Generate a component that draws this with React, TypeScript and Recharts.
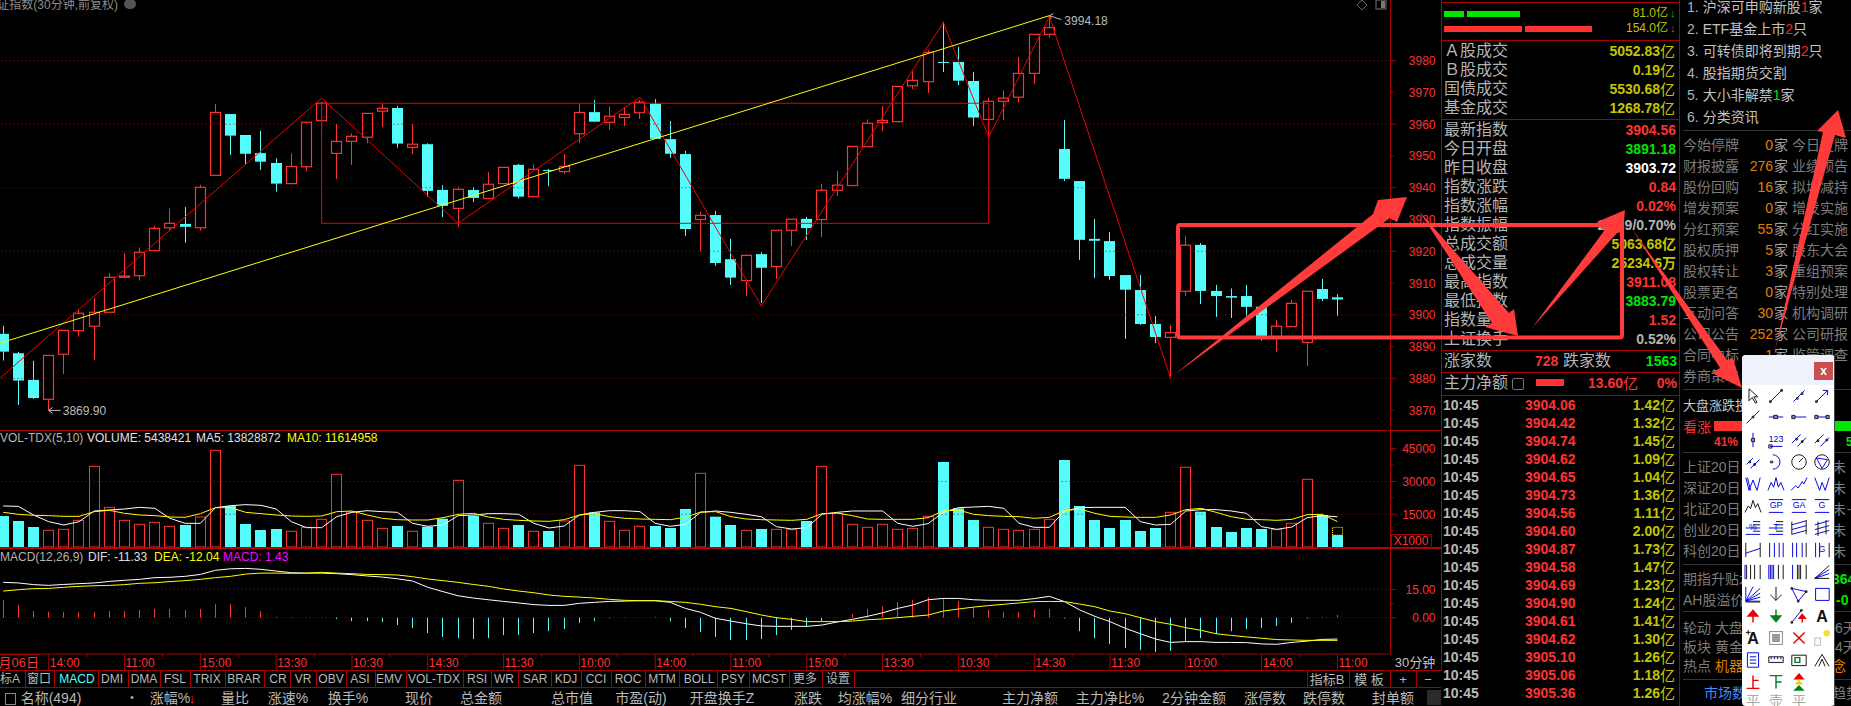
import React from 'react'
import { ComposedChart, Bar, Line, XAxis, YAxis, ReferenceLine, ReferenceDot } from 'recharts'

const RED = '#ff3232'
const CYAN = '#54fcfc'
const FRAME = '#a80000'
const DOTS = '#8a1010'
const OLIVE = '#c4c400'
const GREY = '#b4b4b4'
const FONT = '"Liberation Sans","Noto Sans CJK SC",sans-serif'

const HIGHS = [3896.5,3888.3,3885.5,3887.2,3895.1,3901.5,3905.4,3913.1,3919.4,3921.2,3928.0,3933.5,3933.9,3940.9,3966.4,3963.2,3956.6,3957.9,3949.3,3950.8,3960.6,3967.1,3960.0,3957.1,3963.4,3966.6,3965.7,3960.0,3954.0,3940.8,3940.4,3940.2,3944.9,3946.4,3947.5,3947.2,3945.9,3950.6,3966.4,3967.6,3965.6,3965.3,3967.6,3967.9,3961.0,3951.6,3932.4,3932.7,3923.9,3919.0,3919.7,3926.6,3930.1,3930.8,3941.2,3945.3,3953.0,3961.5,3965.7,3971.9,3977.1,3983.4,3992.2,3984.3,3976.4,3968.3,3970.6,3981.1,3988.3,3994.18,3961.3,3942.1,3930.2,3926.0,3912.5,3912.5,3899.6,3896.8,3924.8,3922.6,3909.4,3908.3,3909.4,3902.5,3898.4,3904.7,3907.4,3911.3,3906.5]
const BODY_TOPS = [3894.0,3887.9,3879.5,3887.2,3895.1,3900.5,3900.8,3911.8,3912.2,3919.7,3927.2,3928.8,3928.6,3940.1,3963.7,3963.2,3956.6,3950.9,3947.8,3946.7,3960.6,3966.6,3954.6,3956.2,3963.4,3965.0,3965.1,3953.7,3953.7,3939.3,3939.5,3939.3,3941.1,3946.4,3947.2,3945.8,3945.6,3946.7,3963.7,3963.8,3962.5,3963.1,3966.9,3966.5,3955.3,3950.6,3931.3,3931.4,3917.5,3918.7,3919.1,3926.6,3930.1,3930.2,3939.2,3940.8,3953.0,3960.3,3961.2,3971.9,3973.8,3982.6,3979.6,3979.6,3973.6,3967.2,3968.2,3976.0,3988.3,3990.4,3952.2,3942.1,3923.9,3923.2,3912.5,3907.8,3897.1,3894.4,3921.9,3922.0,3907.5,3905.9,3905.9,3902.5,3896.4,3903.6,3907.4,3908.1,3905.5]
const BODY_BOTTOMS = [3888.4,3879.3,3873.8,3873.4,3887.6,3895.0,3896.4,3900.8,3911.8,3912.3,3920.2,3927.4,3927.7,3927.4,3943.9,3956.4,3950.7,3948.2,3941.3,3941.3,3946.6,3961.1,3950.8,3954.6,3955.9,3964.1,3953.9,3952.7,3939.0,3934.3,3933.5,3936.8,3936.6,3941.3,3937.2,3937.2,3945.3,3945.1,3957.0,3960.8,3960.6,3962.1,3963.6,3955.4,3950.7,3927.0,3930.0,3916.3,3911.7,3910.8,3914.8,3915.2,3926.6,3927.3,3930.0,3939.2,3940.7,3952.9,3960.5,3960.8,3972.1,3973.4,3979.4,3973.7,3962.1,3961.5,3967.2,3968.5,3976.0,3988.3,3942.8,3923.6,3923.3,3912.2,3907.9,3897.1,3893.0,3892.9,3907.4,3907.5,3905.9,3905.4,3902.5,3892.6,3892.6,3896.3,3891.3,3905.0,3904.8]
const LOWS = [3885.6,3871.6,3873.5,3869.9,3881.4,3893.1,3885.8,3900.8,3911.8,3910.8,3920.2,3926.5,3922.7,3926.5,3943.9,3950.3,3947.2,3945.6,3938.8,3941.3,3945.3,3956.9,3942.8,3947.2,3954.0,3959.1,3952.6,3950.6,3937.2,3930.8,3927.7,3935.5,3936.6,3941.3,3936.6,3937.2,3940.5,3944.3,3954.1,3960.8,3958.2,3959.4,3961.6,3955.4,3949.4,3924.8,3919.9,3915.4,3909.4,3905.9,3903.7,3911.3,3921.7,3923.6,3924.5,3937.4,3940.7,3952.9,3957.9,3960.8,3971.1,3969.8,3976.4,3972.3,3959.4,3956.1,3961.3,3966.8,3972.7,3987.2,3942.1,3917.3,3911.6,3911.0,3892.4,3896.8,3891.1,3879.9,3905.9,3903.4,3899.3,3899.0,3899.6,3891.9,3888.3,3896.3,3883.9,3904.3,3899.6]
const CANDLE_SIDES = 'CCCRRRRRRRRRCRRCCCCRRRRRRRCRCCRCRRCRCRRCRRRCCCRCCRCRRCRRRRRRRRCCCRRRRRCCCCCCCRRCCCCCRRRCC'

const VOLUMES = [14180,11900,9150,7630,8080,12200,36900,18150,12200,10370,11290,9460,10070,13730,44230,18760,10520,7780,8240,7170,9000,12660,33250,16010,12200,8540,9610,7170,9300,12960,30500,14340,10830,8540,10070,7170,7320,11900,37360,15860,11740,7630,9460,9610,8690,17390,33700,13880,10070,7630,8240,8080,7930,11900,36900,15250,10370,9000,10370,8080,8540,14030,38890,17690,12350,9000,8080,7630,8080,12660,39800,18760,12350,8690,12350,7320,8690,15860,36450,16170,9150,6860,8690,8240,7930,10830,30960,14640,5438]
const VOL_MA5 = [18760,18600,14640,11590,10070,11590,16470,16930,17390,18150,17690,13120,10830,10830,18000,18910,19370,19060,17390,11590,8850,8850,13880,15860,16620,16170,15860,10830,9460,10070,14340,14640,15250,15250,14950,10830,8690,9610,14640,15860,16620,16620,16170,10830,9460,10370,15860,16470,15860,14950,13880,9300,8240,8850,14950,15860,16470,16470,16470,10830,9460,10680,15860,18000,18300,18600,17690,10830,9000,9000,16470,18000,18150,18150,18150,11590,10070,10370,16470,17080,17080,16470,15400,9300,8080,9150,13420,14340,13829]
const VOL_MA10 = [15860,14950,14490,14340,14030,14030,16170,16780,15400,14640,14340,13730,13570,15250,18000,18000,15860,15250,14640,14180,14030,14180,16170,16470,14640,13120,12500,12350,12350,13420,14950,15400,13730,12660,12200,11900,11740,12500,14640,15250,13880,13120,12810,12660,12500,13570,16010,16170,13880,12810,12500,12350,12200,12660,15250,15560,14340,12810,12660,12660,12660,13420,16470,16930,14950,14340,14030,13880,13120,13570,16620,17390,15400,14030,13730,13570,13570,14640,17080,17690,15860,13880,12660,12500,12200,12660,14790,14950,11615]
const LAST_BAR_ESTIMATE = 9000

const DIF = [18.7,18.4,17.5,17.1,17.6,18.0,18.4,19.2,19.8,20.3,21.2,21.4,21.9,22.9,25.1,25.9,26.1,25.6,24.7,23.8,23.6,23.6,23.3,22.8,22.1,21.5,20.6,19.4,16.1,13.8,11.6,10.4,9.5,8.6,7.8,6.9,6.5,6.5,7.6,8.1,8.6,8.8,9.0,9.0,8.1,4.9,2.8,-0.4,-1.8,-3.2,-4.4,-4.6,-4.6,-4.6,-3.9,-2.3,-0.9,0.7,2.6,4.9,6.7,9.5,10.2,10.2,9.5,9.2,9.2,9.2,10.1,11.3,8.5,4.1,0.7,-2.1,-5.6,-8.5,-11.3,-13.1,-12.7,-12.7,-13.1,-13.1,-13.2,-13.9,-14.1,-13.1,-12.4,-11.5,-11.33]
const DEA = [14.1,14.8,15.4,15.5,16.1,16.6,16.9,17.1,17.5,18.2,18.5,19.1,19.6,20.3,21.2,21.9,23.1,23.6,23.6,23.5,23.6,24.0,23.6,23.3,22.9,22.8,22.6,21.7,20.5,19.6,18.7,17.6,16.6,15.2,14.1,13.2,12.0,11.3,10.9,10.4,9.7,9.2,9.0,9.0,8.6,8.1,7.1,5.8,4.9,3.2,1.4,0,-0.9,-2.1,-2.1,-2.1,-1.8,-1.1,-0.7,0,0.7,1.4,3.5,4.6,5.6,6.4,7.1,7.8,8.5,8.6,8.5,7.2,5.8,3.5,2.1,0,-2.1,-3.5,-5.3,-6.7,-8.5,-9.4,-10.2,-10.9,-11.6,-11.8,-12.0,-12.0,-12.04]
const MACD = [9.4,6.7,3.5,3.2,3.0,2.8,2.8,3.5,3.5,4.1,4.6,4.6,4.1,4.6,7.2,7.2,5.6,3.5,0.5,0.2,0.1,-0.1,-0.7,-1.8,-1.8,-2.3,-3.9,-5.5,-8.1,-10.2,-10.8,-11.3,-10.8,-9.2,-9.2,-8.1,-7.1,-6.0,-2.8,-1.8,-0.4,-0.1,0.1,0.4,-1.8,-5.5,-7.6,-10.2,-11.8,-11.8,-11.3,-9.2,-6.5,-4.9,-1.8,0.1,1.9,4.6,6.0,8.3,9.4,10.9,10.4,8.8,5.6,4.1,3.0,3.0,4.1,4.6,-0.4,-7.1,-10.8,-13.9,-16.1,-17.1,-18.2,-17.6,-12.4,-10.8,-8.6,-7.1,-6.0,-5.5,-4.4,-2.8,-0.4,0.4,1.43]

const ZIGZAG_SLOTS = [-1,21,30,42,50,62,65,69,77]
const ZIGZAG_VALUES = [3876.8,3968.2,3928.8,3968.5,3902.8,3992.0,3955.9,3993.9,3880.0]
const TREND_SLOTS = [-1,69]
const TREND_VALUES = [3889.9,3994.18]

const TIME_SLOTS = [3,8,13,18,23,28,33,38,43,48,53,58,63,68,73,78,83,88]
const TIME_LABELS = ['14:00','11:00','15:00','13:30','10:30','14:30','11:30','10:00','14:00','11:00','15:00','13:30','10:30','14:30','11:30','10:00','14:00','11:00']
const PRICE_TICKS = [3870,3880,3890,3900,3910,3920,3930,3940,3950,3960,3970,3980]
const PRICE_GRID = [3880,3900,3920,3940,3960,3980]

const rows = Array.from({ length: 93 }, (_, i) => {
    const slot = i - 1
    const zig = ZIGZAG_SLOTS.indexOf(slot)
    const trend = TREND_SLOTS.indexOf(slot)
    return {
        slot,
        high: HIGHS[slot],
        top: BODY_TOPS[slot],
        bottom: BODY_BOTTOMS[slot],
        low: LOWS[slot],
        up: CANDLE_SIDES[slot] === 'R',
        volume: VOLUMES[slot],
        ma5: VOL_MA5[slot],
        ma10: VOL_MA10[slot],
        dif: DIF[slot],
        dea: DEA[slot],
        macd: MACD[slot],
        zigzag: zig >= 0 ? ZIGZAG_VALUES[zig] : undefined,
        trend: trend >= 0 ? TREND_VALUES[trend] : undefined,
    }
})

function Candle({ x, y, width, height, payload }: any) {
    if (payload.high == null || !height) return <g />
    const perUnit = height / (payload.high - payload.low)
    const left = Math.round(x)
    const mid = left + 5.5
    const bodyY = y + (payload.high - payload.top) * perUnit
    const bodyH = Math.max((payload.top - payload.bottom) * perUnit, 1)
    const color = payload.up ? RED : CYAN
    return (
        <g>
            <line x1={mid} x2={mid} y1={y} y2={y + height} stroke={color} />
            {payload.up
                ? <rect x={left + 0.5} y={bodyY} width={10} height={bodyH} fill="#000" stroke={color} strokeWidth={1.2} />
                : <rect x={left} y={bodyY} width={11} height={bodyH} fill={color} />}
        </g>
    )
}

function VolumeBar({ x, y, height, payload }: any) {
    if (payload.volume == null) return <g />
    const left = Math.round(x)
    const color = payload.up ? RED : CYAN
    const est = payload.slot === 88 ? (height / payload.volume) * (LAST_BAR_ESTIMATE - payload.volume) : 0
    return (
        <g>
            {payload.up
                ? <rect x={left + 0.5} y={y} width={10} height={height} fill="#000" stroke={color} />
                : <rect x={left} y={y} width={11} height={height} fill={color} />}
            {est > 0 && <rect x={left + 0.5} y={y - est} width={10} height={est} fill="none" stroke="#ffff00" strokeDasharray="1 1" />}
        </g>
    )
}

function MacdBar({ x, y, height, payload }: any) {
    if (payload.macd == null) return <g />
    const top = height < 0 ? y + height : y
    return <rect x={Math.round(x)} y={top} width={1} height={Math.abs(height)} fill={payload.macd >= 0 ? RED : CYAN} />
}

function PriceTick({ x, y, payload }: any) {
    const major = PRICE_GRID.includes(payload.value)
    return (
        <g>
            <line x1={x} x2={x + (major ? 6 : 3)} y1={y} y2={y} stroke={FRAME} />
            <text x={x + 45} y={y + 4.5} textAnchor="end" fill={RED} fontSize={12} fontFamily={FONT}>{payload.value}</text>
        </g>
    )
}

function VolumeTick({ x, y, payload }: any) {
    const major = payload.value % 15000 === 0
    return (
        <g>
            <line x1={x} x2={x + (major ? 6 : 3)} y1={y} y2={y} stroke={FRAME} />
            {major && <text x={x + 45} y={y + 4.5} textAnchor="end" fill={RED} fontSize={12} fontFamily={FONT}>{payload.value}</text>}
        </g>
    )
}

function MacdTick({ x, y, payload }: any) {
    const labelled = payload.value === 0 || payload.value === 15
    return (
        <g>
            <line x1={x} x2={x + (labelled ? 6 : 3)} y1={y} y2={y} stroke={FRAME} />
            {labelled && <text x={x + 45} y={y + 4.5} textAnchor="end" fill={RED} fontSize={12} fontFamily={FONT}>{payload.value.toFixed(2)}</text>}
        </g>
    )
}

function TimeTick({ x, y, payload }: any) {
    const label = TIME_LABELS[TIME_SLOTS.indexOf(payload.value)]
    return (
        <g>
            <line x1={x} x2={x} y1={y} y2={y + 16} stroke={FRAME} />
            {payload.value !== 88 && <line x1={x + 38} x2={x + 38} y1={y} y2={y + 3} stroke={FRAME} />}
            <text x={x + 1} y={y + 12.5} fill={RED} fontSize={12} fontFamily={FONT}>{label}</text>
        </g>
    )
}

const extremeLabel = (text: string, side: 'low' | 'high') => (props: any) => {
    const { cx, cy } = props
    if (side === 'low') {
        return (
            <g>
                <path d={`M${cx + 12} ${cy}H${cx}M${cx + 4} ${cy - 3}L${cx} ${cy}L${cx + 4} ${cy + 3}`} stroke="#bbb" fill="none" />
                <text x={cx + 14} y={cy + 5} fill="#bbb" fontSize={12} fontFamily={FONT}>{text}</text>
            </g>
        )
    }
    return (
        <g>
            <path d={`M${cx} ${cy}L${cx + 12} ${cy + 4}M${cx + 4} ${cy - 2}L${cx} ${cy}L${cx + 2} ${cy + 3}`} stroke="#bbb" fill="none" />
            <text x={cx + 15} y={cy + 9} fill="#bbb" fontSize={12} fontFamily={FONT}>{text}</text>
        </g>
    )
}

const CHART_LEFT = -20
const CHART_WIDTH = 1461
const chartMargin = { top: 0, right: 0.5, bottom: 0, left: 0.5 }

function Pane({ top, children }: { top: number; children: React.ReactNode }) {
    return <div style={{ position: 'absolute', left: CHART_LEFT, top }}>{children}</div>
}

function PriceChart() {
    const rectTop = 3966.6
    const rectBottom = 3928.8
    return (
        <Pane top={0}>
            <ComposedChart width={CHART_WIDTH} height={430} data={rows} margin={chartMargin} barCategoryGap={0}>
                <XAxis dataKey="slot" hide />
                <YAxis orientation="right" width={50} domain={[3863.73, 3999.1]} ticks={PRICE_TICKS} interval={0} tick={PriceTick} tickLine={false} tickSize={0} tickMargin={0} axisLine={{ stroke: FRAME }} allowDataOverflow />
                {PRICE_GRID.map((v) => <ReferenceLine key={v} y={v} stroke={DOTS} strokeDasharray="1 3" />)}
                <ReferenceLine segment={[{ x: 21, y: rectTop }, { x: 65, y: rectTop }]} stroke="#ee0000" />
                <ReferenceLine segment={[{ x: 21, y: rectBottom }, { x: 65, y: rectBottom }]} stroke="#ee0000" />
                <ReferenceLine segment={[{ x: 21, y: rectTop }, { x: 21, y: rectBottom }]} stroke="#ee0000" />
                <ReferenceLine segment={[{ x: 65, y: rectTop }, { x: 65, y: rectBottom }]} stroke="#ee0000" />
                <Bar dataKey={(d: any) => (d.high == null ? null : [d.low, d.high])} barSize={11} shape={Candle} isAnimationActive={false} />
                <Line dataKey="zigzag" connectNulls dot={false} stroke="#f00000" strokeWidth={1} isAnimationActive={false} />
                <Line dataKey="trend" connectNulls dot={false} stroke="#ffff00" strokeWidth={1} isAnimationActive={false} />
                <ReferenceDot x={3} y={3869.9} r={0} shape={extremeLabel('3869.90', 'low')} />
                <ReferenceDot x={69} y={3994.18} r={0} shape={extremeLabel('3994.18', 'high')} />
            </ComposedChart>
        </Pane>
    )
}

function VolumeChart() {
    return (
        <Pane top={430}>
            <ComposedChart width={CHART_WIDTH} height={117} data={rows} margin={chartMargin} barCategoryGap={0}>
                <XAxis dataKey="slot" hide />
                <YAxis orientation="right" width={50} domain={[0, 53530]} ticks={[7500, 15000, 22500, 30000, 37500, 45000]} interval={0} tick={VolumeTick} tickLine={false} tickSize={0} tickMargin={0} axisLine={{ stroke: FRAME }} />
                <ReferenceLine y={15000} stroke={DOTS} strokeDasharray="1 3" />
                <ReferenceLine y={30000} stroke={DOTS} strokeDasharray="1 3" />
                <Bar dataKey="volume" barSize={11} shape={VolumeBar} isAnimationActive={false} />
                <Line dataKey="ma5" dot={false} stroke="#ffffff" strokeWidth={1} isAnimationActive={false} />
                <Line dataKey="ma10" dot={false} stroke="#ffff00" strokeWidth={1} isAnimationActive={false} />
            </ComposedChart>
        </Pane>
    )
}

function MacdChart() {
    return (
        <Pane top={548}>
            <ComposedChart width={CHART_WIDTH} height={122} data={rows} margin={chartMargin} barCategoryGap={0}>
                <XAxis dataKey="slot" ticks={TIME_SLOTS} interval={0} height={16} tick={TimeTick} tickLine={false} tickSize={0} tickMargin={0} axisLine={{ stroke: FRAME }} />
                <YAxis orientation="right" width={50} domain={[-19.24, 36.9]} ticks={[0, 7.5, 15]} interval={0} tick={MacdTick} tickLine={false} tickSize={0} tickMargin={0} axisLine={{ stroke: FRAME }} />
                <ReferenceLine y={15} stroke={DOTS} strokeDasharray="1 3" />
                <ReferenceLine y={0} stroke={DOTS} strokeDasharray="1 3" />
                <Bar dataKey="macd" barSize={1} shape={MacdBar} isAnimationActive={false} />
                <Line dataKey="dif" dot={false} stroke="#ffffff" strokeWidth={1} isAnimationActive={false} />
                <Line dataKey="dea" dot={false} stroke="#ffff00" strokeWidth={1} isAnimationActive={false} />
            </ComposedChart>
        </Pane>
    )
}

// text and frame helpers for the terminal chrome around the charts
function T({ x, y, c = GREY, s = 14, b, a = 'l', children }: any) {
    const shift = a === 'r' ? '-100%' : a === 'c' ? '-50%' : '0'
    return (
        <div style={{ position: 'absolute', left: x, top: y, transform: `translate(${shift},-50%)`, color: c, fontSize: s, fontWeight: b ? 700 : 400, fontFamily: FONT, whiteSpace: 'nowrap', lineHeight: 1 }}>
            {children}
        </div>
    )
}

function Box({ x, y, w, h, c = FRAME }: any) {
    return <div style={{ position: 'absolute', left: x, top: y, width: w, height: h, background: c }} />
}

const TAB_LABELS = ['标A','窗口','MACD','DMI','DMA','FSL','TRIX','BRAR','CR','VR','OBV','ASI','EMV','VOL-TDX','RSI','WR','SAR','KDJ','CCI','ROC','MTM','BOLL','PSY','MCST','更多','设置']
const TAB_CENTERS = [10,39,77,112,144,175,207,244,278,303,331,360,389,434,477,504,535,566,596,628,662,699,733,769,805,838]
const TAB_STOPS = [25,54,98,128,160,190,225,264,290,316,346,375,406,463,491,518,551,581,611,645,679,717,749,789,822,854]
const HEADER_LABELS = ['涨速%','换手%','现价','总金额','总市值','市盈(动)','开盘换手Z','涨跌','均涨幅%','细分行业','主力净额','主力净比%','2分钟金额','涨停数','跌停数','封单额']
const HEADER_CENTERS = [288,348,419,481,572,641,722,808,865,929,1030,1110,1194,1265,1324,1393]

const TURNOVER_ROWS = [['Ａ股成交','5052.83'],['Ｂ股成交','0.19'],['国债成交','5530.68'],['基金成交','1268.78']]
const INDEX_ROWS = [
    ['最新指数','3904.56',RED],['今日开盘','3891.18','#00e600'],['昨日收盘','3903.72','#ffffff'],['指数涨跌','0.84',RED],
    ['指数涨幅','0.02%',RED],['指数振幅','27.39/0.70%',GREY],['总成交额','5063.68亿',OLIVE],['总成交量','25234.6万',OLIVE],
    ['最高指数','3911.08',RED],['最低指数','3883.79','#00e600'],['指数量比','1.52',RED],['上证换手','0.52%',GREY],
]
const TICK_PRICES = ['3904.06','3904.42','3904.74','3904.62','3904.65','3904.73','3904.56','3904.60','3904.87','3904.58','3904.69','3904.90','3904.61','3904.62','3905.10','3905.06','3905.36']
const TICK_AMOUNTS = ['1.42','1.32','1.45','1.09','1.04','1.36','1.11','2.00','1.73','1.47','1.23','1.24','1.41','1.30','1.26','1.18','1.26']
const NOTICES: [string, string, string, string][] = [
    ['1.','沪深可申购新股','1','家'],['2.','ETF基金上市','2','只'],['3.','可转债即将到期','2','只'],
    ['4.','股指期货交割','',''],['5.','大小非解禁','1','家'],['6.','分类资讯','',''],
]
const EVENT_ROWS = [
    ['今始停牌','0','今日复牌'],['财报披露','276','业绩预告'],['股份回购','16','拟增减持'],['增发预案','0','增发实施'],
    ['分红预案','55','分红实施'],['股权质押','5','股东大会'],['股权转让','3','重组预案'],['股票更名','0','特别处理'],
    ['互动问答','30','机构调研'],['公司公告','252','公司研报'],['合同中标','1','监管调查'],['券商策略','','板块'],
]
const BREADTH_LABELS = ['上证20日','深证20日','北证20日','创业20日','科创20日']

function InfoPanel() {
    return (
        <>
            <Box x={1441} y={0} w={1} h={670} />
            <Box x={1679} y={0} w={1} h={706} />
            <Box x={1441} y={2} w={238} h={1} />
            <Box x={1441} y={40} w={238} h={1} />
            <Box x={1441} y={119} w={238} h={1} />
            <Box x={1441} y={350} w={238} h={1} />
            <Box x={1441} y={372} w={238} h={1} />
            <Box x={1441} y={395} w={238} h={1} />
            <Box x={1444} y={11} w={20} h={6} c="#00e600" />
            <Box x={1467} y={11} w={53} h={6} c="#00e600" />
            <Box x={1444} y={26} w={78} h={6} c={RED} />
            <Box x={1525} y={26} w={67} h={6} c={RED} />
            <T x={1668} y={13} c={OLIVE} s={12} a="r">81.0亿</T>
            <T x={1668} y={28} c={OLIVE} s={12} a="r">154.0亿</T>
            <T x={1670} y={13} c="#00c000" s={11}>↓</T>
            <T x={1670} y={28} c={RED} s={11}>↓</T>
            {TURNOVER_ROWS.map(([label, value], i) => (
                <React.Fragment key={label}>
                    <T x={1444} y={51 + i * 19} s={16}>{label}</T>
                    <T x={1660} y={51 + i * 19} c={OLIVE} b a="r">{value}</T>
                    <T x={1660} y={51 + i * 19} c={OLIVE} s={15}>亿</T>
                </React.Fragment>
            ))}
            {INDEX_ROWS.map(([label, value, color], i) => (
                <React.Fragment key={label}>
                    <T x={1444} y={130 + i * 19} s={16}>{label}</T>
                    <T x={1676} y={130 + i * 19} c={color} b a="r">{value}</T>
                </React.Fragment>
            ))}
            <T x={1444} y={361} s={16}>涨家数</T>
            <T x={1535} y={361} c={RED} b>728</T>
            <T x={1563} y={361} s={16}>跌家数</T>
            <T x={1677} y={361} c="#00e600" b a="r">1563</T>
            <T x={1444} y={383} s={16}>主力净额</T>
            <div style={{ position: 'absolute', left: 1512, top: 378, width: 10, height: 10, border: '1px solid #777', borderRadius: 2 }} />
            <Box x={1536} y={379} w={28} h={7} c={RED} />
            <T x={1623} y={383} c={RED} b a="r">13.60</T>
            <T x={1623} y={383} c={RED} s={15}>亿</T>
            <T x={1677} y={383} c={RED} b a="r">0%</T>
            {TICK_PRICES.map((price, i) => (
                <React.Fragment key={i}>
                    <T x={1443} y={405 + i * 18} c="#b8b8b8" b>10:45</T>
                    <T x={1525} y={405 + i * 18} c={RED} b>{price}</T>
                    <T x={1660} y={405 + i * 18} c={OLIVE} b a="r">{TICK_AMOUNTS[i]}</T>
                    <T x={1660} y={405 + i * 18} c={OLIVE} s={15}>亿</T>
                </React.Fragment>
            ))}
        </>
    )
}

function NewsPanel() {
    return (
        <>
            {NOTICES.map(([no, text, count, unit], i) => (
                <T key={no} x={1687} y={7 + i * 22} c="#c0c0c0">
                    <span style={{ color: '#a8b4c0', marginRight: 4 }}>{no}</span>{text}<span style={{ color: i === 4 ? '#00e600' : '#ff2020' }}>{count}</span>{unit}
                </T>
            ))}
            <Box x={1683} y={130} w={168} h={1} c="#333" />
            {EVENT_ROWS.map(([left, count, right], i) => (
                <React.Fragment key={left}>
                    <T x={1683} y={145 + i * 21} c="#7c7c7c">{left}</T>
                    <T x={1773} y={145 + i * 21} c="#e08000" a="r">{count}</T>
                    {count && <T x={1774} y={145 + i * 21} c="#a0a0a0">家</T>}
                    <T x={1792} y={145 + i * 21} c="#7c7c7c">{right}</T>
                </React.Fragment>
            ))}
            <Box x={1683} y={389} w={168} h={1} c="#333" />
            <T x={1683} y={405} c="#c8c8c8" s={13}>大盘涨跌投</T>
            <T x={1683} y={427} c={RED}>看涨</T>
            <Box x={1714} y={421} w={30} h={10} c={RED} />
            <Box x={1834} y={421} w={17} h={10} c="#00e600" />
            <T x={1714} y={442} c={RED} b s={12}>41%</T>
            <T x={1846} y={442} c="#00e600" b s={12}>5</T>
            <Box x={1683} y={452} w={168} h={1} c="#333" />
            {BREADTH_LABELS.map((label, i) => (
                <React.Fragment key={label}>
                    <T x={1683} y={467 + i * 21} c="#7c7c7c">{label}</T>
                    <T x={1832} y={467 + i * 21} c="#7c7c7c">未</T>
                </React.Fragment>
            ))}
            <T x={1847} y={509} c="#00e600" s={12}>-</T>
            <Box x={1683} y={564} w={168} h={1} c="#333" />
            <T x={1683} y={579} c="#7c7c7c">期指升贴水</T>
            <T x={1683} y={600} c="#7c7c7c">AH股溢价</T>
            <T x={1832} y={579} c="#00e600" b>364</T>
            <T x={1836} y={600} c="#00e600" b>-0</T>
            <Box x={1683} y={611} w={168} h={1} c="#333" />
            <T x={1683} y={628} c="#7c7c7c">轮动 大盘</T>
            <T x={1683} y={647} c="#7c7c7c">板块 黄金</T>
            <T x={1683} y={666} c="#7c7c7c">热点 <span style={{ color: '#e08000' }}>机器</span></T>
            <T x={1835} y={628} c="#7c7c7c">6天</T>
            <T x={1835} y={647} c="#7c7c7c">4天</T>
            <T x={1832} y={666} c="#e08000">念</T>
            <Box x={1683} y={679} w={168} h={1} c="#333" />
            <T x={1704} y={693} c="#3f8cff">市场数据</T>
            <T x={1832} y={693} c="#7c7c7c">趋势</T>
        </>
    )
}

function Chrome() {
    return (
        <>
            <Box x={0} y={430} w={1441} h={1} />
            <Box x={0} y={547} w={1441} h={1.5} c="#c00000" />
            <Box x={0} y={670} w={1441} h={1} />
            <Box x={0} y={687} w={1441} h={1} />
            <T x={118} y={5} c="#8c8c8c" s={12} a="r">上证指数(30分钟,前复权)</T>
            <div style={{ position: 'absolute', left: 124, top: -1, width: 12, height: 10, borderRadius: 6, background: '#555' }} />
            <svg style={{ position: 'absolute', left: 1354, top: 0 }} width={36} height={12}>
                <path d="M8 0L13 5L8 10L3 5Z" fill="none" stroke="#666" />
                <rect x={22} y={0} width={10} height={9} fill="none" stroke="#777" />
                <rect x={27} y={1} width={4} height={7} fill="#777" />
            </svg>
            <T x={0} y={438} s={12} c={GREY}>VOL-TDX(5,10)</T>
            <T x={87} y={438} s={12} c="#e0e0e0">VOLUME: 5438421</T>
            <T x={196} y={438} s={12} c="#e0e0e0">MA5: 13828872</T>
            <T x={287} y={438} s={12} c="#ffff00">MA10: 11614958</T>
            <T x={0} y={557} s={12} c={GREY}>MACD(12,26,9)</T>
            <T x={88} y={557} s={12} c="#e0e0e0">DIF: -11.33</T>
            <T x={154} y={557} s={12} c="#ffff00">DEA: -12.04</T>
            <T x={223} y={557} s={12} c="#ff00ff">MACD: 1.43</T>
            <div style={{ position: 'absolute', left: 1391, top: 534, width: 39, height: 13, border: `1px solid ${FRAME}` }} />
            <T x={1411} y={541} c={RED} s={12} a="c">X1000</T>
            <Box x={0} y={654} w={40} h={16} c="#000" />
            <Box x={0} y={654} w={40} h={1} />
            <T x={39} y={662} c={RED} s={13} a="r">9月06日</T>
            <T x={1415} y={662} c="#c0c0c0" s={13} a="c">30分钟</T>
            {TAB_LABELS.map((label, i) => (
                <React.Fragment key={label}>
                    <T x={TAB_CENTERS[i]} y={679} c={label === 'MACD' ? CYAN : '#b8b8b8'} s={12} a="c">{label}</T>
                    <Box x={TAB_STOPS[i]} y={671} w={1} h={16} />
                </React.Fragment>
            ))}
            {[['指标B', 1327], ['模 板', 1369], ['+', 1403], ['−', 1428]].map(([label, x]) => (
                <T key={label} x={x} y={679} c="#b8b8b8" s={13} a="c">{label}</T>
            ))}
            {[1307, 1349, 1390, 1416].map((x) => <Box key={x} x={x} y={671} w={1} h={16} />)}
            <div style={{ position: 'absolute', left: 5, top: 693, width: 9, height: 10, border: '1px solid #888' }} />
            <T x={51} y={698} c="#b8b8b8" a="c">名称(494)</T>
            <T x={132} y={698} c="#b8b8b8" s={10} a="c">•</T>
            <T x={170} y={698} c="#b8b8b8" a="c">涨幅%</T>
            <T x={192} y={698} c={RED} s={13} a="c">↓</T>
            <T x={235} y={698} c="#b8b8b8" a="c">量比</T>
            {HEADER_LABELS.map((label, i) => (
                <T key={label} x={HEADER_CENTERS[i]} y={698} c="#b8b8b8" a="c">{label}</T>
            ))}
            <Box x={1427} y={690} w={14} h={15} c="#2c2c2c" />
        </>
    )
}

const ANNOTATION_ARROWS = [
    '1174,375 1373,214 1378,200 1407,197 1397,222 1390,218',
    '1532,328 1604,231 1597,222 1625,210 1623,232 1617,233',
    '1419,211 1492,323 1485,327 1518,336 1514,309 1509,313',
    '1632,229 1720,368 1712,373 1742,388 1733,358 1727,360',
    '1775,350 1823,132 1817,131 1838,110 1846,138 1835,135',
]

function Annotations() {
    return (
        <svg style={{ position: 'absolute', left: 0, top: 0 }} width={1851} height={706}>
            <rect x={1178} y={225} width={444} height={112.5} rx={2} fill="none" stroke="#ff3b3b" strokeWidth={4} />
            {ANNOTATION_ARROWS.map((points) => <polygon key={points} points={points} fill="#ff3b3b" />)}
        </svg>
    )
}

const B = '#0000e0'
const K = '#111'
// k, b, r, g: path per colour; t: glyph text
const TOOL_ICONS: any[] = [
    { k: 'M7 3V18L11 14L15 21L17 20L13 13H18Z' }, { b: 'M5 19L19 5', k: 'M4 18h2v2h-2zM18 4h2v2h-2z' }, { b: 'M5 19L19 5', k: 'M9 14h2v2h-2zM15 8h2v2h-2z' }, { b: 'M5 19L19 5M13 5H19V11', k: 'M4 18h2v2h-2z' },
    { b: 'M4 20L20 4', k: 'M11 11h2v2h-2z' }, { b: 'M3 12H21', k: 'M9 10h5v4h-5z' }, { b: 'M3 12H21', k: 'M3 10h4v4h-4z' }, { b: 'M3 12H21', k: 'M3 10h4v4h-4zM17 10h4v4h-4z' },
    { b: 'M12 3V21', k: 'M10 10h4v4h-4z' }, { b: 'M4 20H20', t: '123', k: 'M3 18h4v4h-4z' }, { b: 'M3 16L14 5M10 20L21 9', k: 'M8 10h2v2h-2zM15 13h2v2h-2z' }, { b: 'M3 16L14 5M10 20L21 9', k: 'M6 12h2v2h-2zM17 11h2v2h-2z' },
    { b: 'M4 15L12 7M9 20L20 9', k: 'M7 11h2v2h-2zM13 14h2v2h-2z' }, { b: 'M8 3A9 9 0 0 1 8 21', k: 'M5 11h3v2h-3z' }, { k: 'M12 3A9 9 0 1 0 12.01 3M12 12L17 7' }, { k: 'M12 3A9 9 0 1 0 12.01 3', b: 'M5 7L19 9L12 20Z' },
    { b: 'M3 4L7 20L12 7L17 20L21 4M5 4L9 20' }, { b: 'M2 20L6 10L9 16L12 4L15 16L18 10L22 20' }, { b: 'M2 20L8 14L11 17L16 9L18 12L22 4' }, { b: 'M3 4L9 20L12 10L16 20L21 4' },
    { k: 'M2 20L6 12L9 15L12 5L15 14L18 9L22 20' }, { b: 'M3 4H21M3 20H21', t: 'GP' }, { b: 'M3 4H21M3 20H21', t: 'GA' }, { k: 'M3 4H21', b: 'M3 20H21', t: 'G' },
    { b: 'M3 12H21M3 20H21', k: 'M12 4H21M12 8H21M12 16H21', t: '%' }, { b: 'M3 12H21M3 20H21', k: 'M12 4H21M12 8H21M12 16H21', t: 'T' }, { b: 'M3 8L21 3M3 14L21 9M3 20L21 15', k: 'M3 4V20M21 2V20' }, { b: 'M3 8L21 3M3 14L21 9M3 20L21 15', k: 'M7 4V22M17 2V20' },
    { k: 'M3 3V21M21 3V21', b: 'M3 16L21 10' }, { b: 'M4 3V21M10 3V21M16 3V21M21 3V21' }, { b: 'M4 3V21M9 3V21M16 3V21', k: 'M21 3V21' }, { b: 'M4 3V21', k: 'M9 3V21M21 3V21', t: 'G' },
    { k: 'M4 3V21M9 3V21M14 3V21M21 3V21', b: 'M2 3V21' }, { b: 'M3 3V21M5 3V21M7 3V21M9 3V21', k: 'M15 3V21M21 3V21' }, { b: 'M4 3V21', k: 'M10 3V21M12 3V21M14 3V21M21 3V21' }, { k: 'M3 20H21M3 20L21 4', b: 'M3 20L21 9M3 20L21 14' },
    { b: 'M3 3V21H21M3 21L21 5M3 21L21 11M3 21L21 16M3 21L12 3', k: 'M3 22H21' }, { k: 'M12 3V20M5 13L12 20L19 13' }, { b: 'M3 5L21 9L11 21Z', k: 'M2 4h2v2h-2zM20 8h2v2h-2zM10 20h2v2h-2z' }, { b: 'M4 5H21V20H4Z' },
    { r: 'M12 20V10M6 12L12 5L18 12Z' }, { g: 'M12 4V14M6 12L12 19L18 12Z' }, { b: 'M3 20L15 5', k: 'M2 19h2v2h-2zM14 4h2v2h-2z', r: 'M16 20V13M12 15L16 10L20 15Z' }, { t: 'A', big: true },
    { t: 'A', big: true, k: 'M3 5H9M6 2V8' }, { grey: true }, { r: 'M5 5L19 19M19 5L5 19' }, { light: true },
    { b: 'M5 3H19V21H5ZM8 8H16M8 12H16M8 16H16' }, { k: 'M3 8H21V15H3Z', b: 'M6 8V11M10 8V11M14 8V11M18 8V11' }, { k: 'M3 6H21V19H3Z', g: 'M7 9h6v6h-6z' }, { k: 'M3 20L12 5L21 20M8 20L12 11L16 20' },
    { r: 'M4 20H20M12 4V20M12 10H19' }, { g: 'M4 4H20M12 4V20M12 12H19' }, { r: 'M12 2L17 8H7Z', g: 'M12 17L7 22H17Z', o: 'M12 9L17 15H7Z' },
]
const TOOL_ROWS = [41, 62, 85, 107, 129, 151, 173, 195, 217, 239, 261, 283, 305, 327]
const TOOL_COLS = [11, 34, 57, 80]

function Toolbox() {
    return (
        <svg style={{ position: 'absolute', left: 1742, top: 355 }} width={93} height={351}>
            <rect x={0} y={0} width={93} height={351} rx={4} fill="#ffffff" />
            <path d="M0 30V4Q0 0 4 0H88Q92 0 92 4V30Z" fill="#eef2fb" />
            <rect x={72} y={7} width={19} height={18} fill="#c85050" />
            <text x={81.5} y={20} textAnchor="middle" fill="#fff" fontSize={12} fontWeight={700} fontFamily={FONT}>x</text>
            <rect x={92} y={0} width={1} height={351} fill="#444" />
            {TOOL_ICONS.map((icon, i) => {
                const cx = TOOL_COLS[i % 4]
                const cy = TOOL_ROWS[Math.floor(i / 4)]
                return (
                    <g key={i} transform={`translate(${cx - 9.6},${cy - 9.6}) scale(0.8)`} fill="none" strokeWidth={1.2}>
                        {icon.grey && <><rect x={4} y={4} width={16} height={16} stroke="#888" /><rect x={7} y={7} width={10} height={10} fill="#999" /></>}
                        {icon.light && <><circle cx={18} cy={6} r={4} fill="#f0e030" /><rect x={3} y={12} width={7} height={9} stroke="#bbb" /></>}
                        {icon.b && <path d={icon.b} stroke={B} />}
                        {icon.k && <path d={icon.k} stroke={K} />}
                        {icon.r && <path d={icon.r} stroke="#e80000" fill={icon.r.includes('Z') ? '#e80000' : 'none'} strokeWidth={1.8} />}
                        {icon.g && <path d={icon.g} stroke="#008020" fill={icon.g.includes('Z') ? '#008020' : 'none'} strokeWidth={1.8} />}
                        {icon.o && <path d={icon.o} fill="#f0d000" />}
                        {icon.t && <text x={12} y={icon.big ? 20 : 14} textAnchor="middle" fontSize={icon.big ? 20 : 11} fontWeight={icon.big ? 700 : 400} fill={icon.big ? K : B} stroke="none" fontFamily={FONT}>{icon.t}</text>}
                    </g>
                )
            })}
            {['平', '壶', '平'].map((c, i) => (
                <text key={i} x={TOOL_COLS[i]} y={351} textAnchor="middle" fontSize={14} fill="#aaa" fontFamily={FONT}>{c}</text>
            ))}
        </svg>
    )
}

export default function App() {
    return (
        <div style={{ position: 'fixed', left: 0, top: 0, width: 1851, height: 706, background: '#000', overflow: 'hidden' }}>
            <PriceChart />
            <VolumeChart />
            <MacdChart />
            <Chrome />
            <InfoPanel />
            <NewsPanel />
            <Annotations />
            <Toolbox />
        </div>
    )
}
